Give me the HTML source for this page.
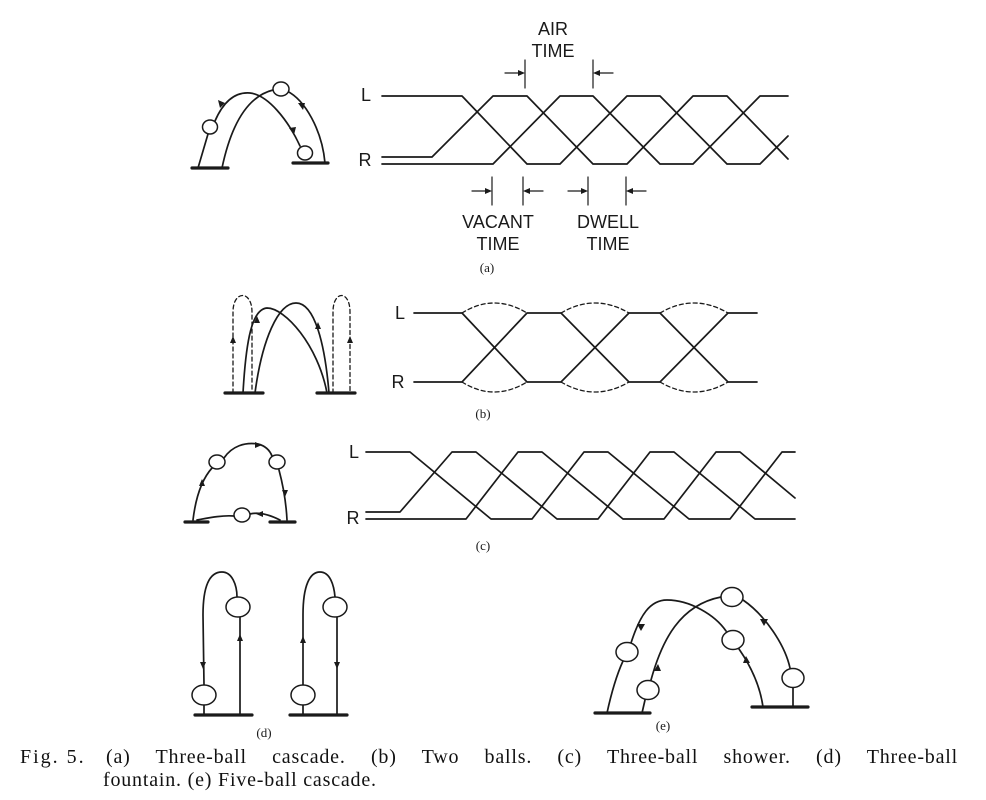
<!DOCTYPE html>
<html><head><meta charset="utf-8"><style>
html,body{margin:0;padding:0;background:#fff;}
svg{display:block;position:absolute;left:0;top:0;}
.cap{position:absolute;font-family:"Liberation Serif",serif;font-size:20px;color:#111;white-space:nowrap;line-height:22px;letter-spacing:0.8px;}
.j{text-align:justify;text-align-last:justify;white-space:normal;}
</style></head><body>
<svg width="986" height="800" viewBox="0 0 986 800" xmlns="http://www.w3.org/2000/svg">
<g fill="none" stroke="#1a1a1a" stroke-width="1.7" stroke-linejoin="round" stroke-linecap="round">
<polyline points="382,96 462,96 527,164 560,164 627,96 660,96 727,164 760,164 788,136"/>
<polyline points="382,157 432,157 493,96 527,96 593,164 627,164 693,96 727,96 788,159"/>
<polyline points="382,164 493,164 560,96 593,96 660,164 693,164 760,96 788,96"/>
<line x1="525" y1="60" x2="525" y2="88" stroke-width="1.2"/>
<line x1="593" y1="60" x2="593" y2="88" stroke-width="1.2"/>
<line x1="505" y1="73" x2="520" y2="73" stroke-width="1.2"/>
<line x1="613" y1="73" x2="598" y2="73" stroke-width="1.2"/>
<line x1="492" y1="177" x2="492" y2="205" stroke-width="1.2"/>
<line x1="523" y1="177" x2="523" y2="205" stroke-width="1.2"/>
<line x1="588" y1="177" x2="588" y2="205" stroke-width="1.2"/>
<line x1="626" y1="177" x2="626" y2="205" stroke-width="1.2"/>
<line x1="472" y1="191" x2="487" y2="191" stroke-width="1.2"/>
<line x1="543" y1="191" x2="528" y2="191" stroke-width="1.2"/>
<line x1="568" y1="191" x2="583" y2="191" stroke-width="1.2"/>
<line x1="646" y1="191" x2="631" y2="191" stroke-width="1.2"/>
<path d="M198,168 L208,134 M215,121 C225,98 238,92 250,93 C268,95 288,120 300,146"/>
<path d="M222,168 C230,130 245,97 273,90 M287,91 C305,100 322,130 325,163"/>
<line x1="192" y1="168" x2="228" y2="168" stroke-width="3.2"/>
<line x1="293" y1="163" x2="328" y2="163" stroke-width="3.2"/>
<polyline points="414,313 462,313 527,382 561,382 629,313 660,313 728,382 757,382"/>
<polyline points="414,382 462,382 527,313 561,313 629,382 660,382 728,313 757,313"/>
<g stroke-dasharray="4,3" stroke-width="1.3">
<path d="M462,313 Q494,293 527,313 M561,313 Q595,293 629,313 M660,313 Q694,293 728,313"/>
<path d="M462,382 Q494,402 527,382 M561,382 Q595,402 629,382 M660,382 Q694,402 728,382"/>
<path d="M233,393 L233,312 C233,290 252,290 252,312 L252,393"/>
<path d="M333,393 L333,312 C333,290 350,290 350,312 L350,393"/>
</g>
<path d="M243,393 C246,340 252,309 267,308 C285,308 318,345 327,393"/>
<path d="M255,393 C262,340 278,303 296,303 C315,303 325,345 329,393"/>
<line x1="225" y1="393" x2="263" y2="393" stroke-width="3.2"/>
<line x1="317" y1="393" x2="355" y2="393" stroke-width="3.2"/>
<polyline points="366,452 410,452 491,519 532,519 584,452 608,452 689,519 730,519 782,452 795,452"/>
<polyline points="366,512 400,512 452,452 476,452 557,519 598,519 650,452 674,452 755,519 795,519"/>
<polyline points="366,519 466,519 518,452 542,452 623,519 664,519 716,452 740,452 795,498"/>
<path d="M193,520 C196,495 203,478 212,468 M224,458 C232,446 245,442 258,444 C266,446 270,451 272,456 M279,470 C283,485 286,500 287,520"/>
<path d="M280,520 C268,514 258,512 250,514 M234,516 C222,515 208,518 197,520"/>
<line x1="185" y1="522" x2="208" y2="522" stroke-width="3.2"/>
<line x1="270" y1="522" x2="295" y2="522" stroke-width="3.2"/>
<path d="M204,705 L204,715 M204,685 L203,615 C203,585 210,572 222,572 C232,572 237,585 237,597 M240,617 L240,715"/>
<line x1="195" y1="715" x2="252" y2="715" stroke-width="3.2"/>
<path d="M303,705 L303,715 M303,685 L303,615 C303,585 310,572 320,572 C330,572 334,585 335,597 M337,617 L337,715"/>
<line x1="290" y1="715" x2="347" y2="715" stroke-width="3.2"/>
<path d="M607,713 C612,690 618,672 623,661 M631,643 C640,615 650,600 667,600 C690,600 715,615 726,631 M739,649 C750,665 760,685 763,707"/>
<path d="M642,713 L645,700 M651,680 C662,640 680,605 721,597 M743,600 C765,615 785,645 790,668 M793,688 L793,707"/>
<line x1="595" y1="713" x2="650" y2="713" stroke-width="3.2"/>
<line x1="752" y1="707" x2="808" y2="707" stroke-width="3.2"/>
</g>
<g fill="#fff" stroke="#1a1a1a" stroke-width="1.5">
<ellipse cx="210" cy="127" rx="7.5" ry="7"/>
<ellipse cx="281" cy="89" rx="8" ry="7"/>
<ellipse cx="305" cy="153" rx="7.5" ry="7"/>
<ellipse cx="217" cy="462" rx="8" ry="7"/>
<ellipse cx="277" cy="462" rx="8" ry="7"/>
<ellipse cx="242" cy="515" rx="8" ry="7"/>
<ellipse cx="204" cy="695" rx="12" ry="10"/>
<ellipse cx="238" cy="607" rx="12" ry="10"/>
<ellipse cx="303" cy="695" rx="12" ry="10"/>
<ellipse cx="335" cy="607" rx="12" ry="10"/>
<ellipse cx="627" cy="652" rx="11" ry="9.5"/>
<ellipse cx="648" cy="690" rx="11" ry="9.5"/>
<ellipse cx="732" cy="597" rx="11" ry="9.5"/>
<ellipse cx="733" cy="640" rx="11" ry="9.5"/>
<ellipse cx="793" cy="678" rx="11" ry="9.5"/>
</g>
<g fill="#1a1a1a">
<polygon points="525,73 518,70 518,76"/>
<polygon points="593,73 600,70 600,76"/>
<polygon points="492,191 485,188 485,194"/>
<polygon points="523,191 530,188 530,194"/>
<polygon points="588,191 581,188 581,194"/>
<polygon points="626,191 633,188 633,194"/>
<polygon points="220,108 218,100 225,103"/>
<polygon points="294,135 289,128 296,127"/>
<polygon points="303,110 298,103 305,103"/>
<polygon points="233,336 230,343 236,343"/>
<polygon points="350,336 347,343 353,343"/>
<polygon points="257,316 254,323 260,323"/>
<polygon points="318,322 315,329 321,329"/>
<polygon points="202,479 199,486 205,486"/>
<polygon points="262,445 255,442 255,448"/>
<polygon points="285,497 282,490 288,490"/>
<polygon points="256,514 263,511 263,517"/>
<polygon points="240,634 237,641 243,641"/>
<polygon points="203,669 200,662 206,662"/>
<polygon points="303,636 300,643 306,643"/>
<polygon points="337,669 334,662 340,662"/>
<polygon points="641,631 637,624 645,624"/>
<polygon points="658,664 654,671 661,671"/>
<polygon points="746,656 743,663 750,663"/>
<polygon points="764,626 760,619 768,619"/>
</g>
<g font-family="Liberation Sans, sans-serif" font-size="18" fill="#1a1a1a" text-anchor="middle">
<text x="553" y="35">AIR</text>
<text x="553" y="57">TIME</text>
<text x="498" y="228">VACANT</text>
<text x="498" y="250">TIME</text>
<text x="608" y="228">DWELL</text>
<text x="608" y="250">TIME</text>
<text x="366" y="101">L</text>
<text x="365" y="166">R</text>
<text x="400" y="319">L</text>
<text x="398" y="388">R</text>
<text x="354" y="458">L</text>
<text x="353" y="524">R</text>
</g>
<g font-family="Liberation Serif, serif" font-size="13" fill="#1a1a1a" text-anchor="middle">
<text x="487" y="272">(a)</text>
<text x="483" y="418">(b)</text>
<text x="483" y="550">(c)</text>
<text x="264" y="737">(d)</text>
<text x="663" y="730">(e)</text>
</g>
</svg>
<div class="cap" style="left:20px;top:746px;letter-spacing:2px;">Fig. 5.</div>
<div class="cap j" style="left:106px;top:746px;width:852px;">(a) Three-ball cascade. (b) Two balls. (c) Three-ball shower. (d) Three-ball</div>
<div class="cap" style="left:103px;top:769px;">fountain. (e) Five-ball cascade.</div>
</body></html>
